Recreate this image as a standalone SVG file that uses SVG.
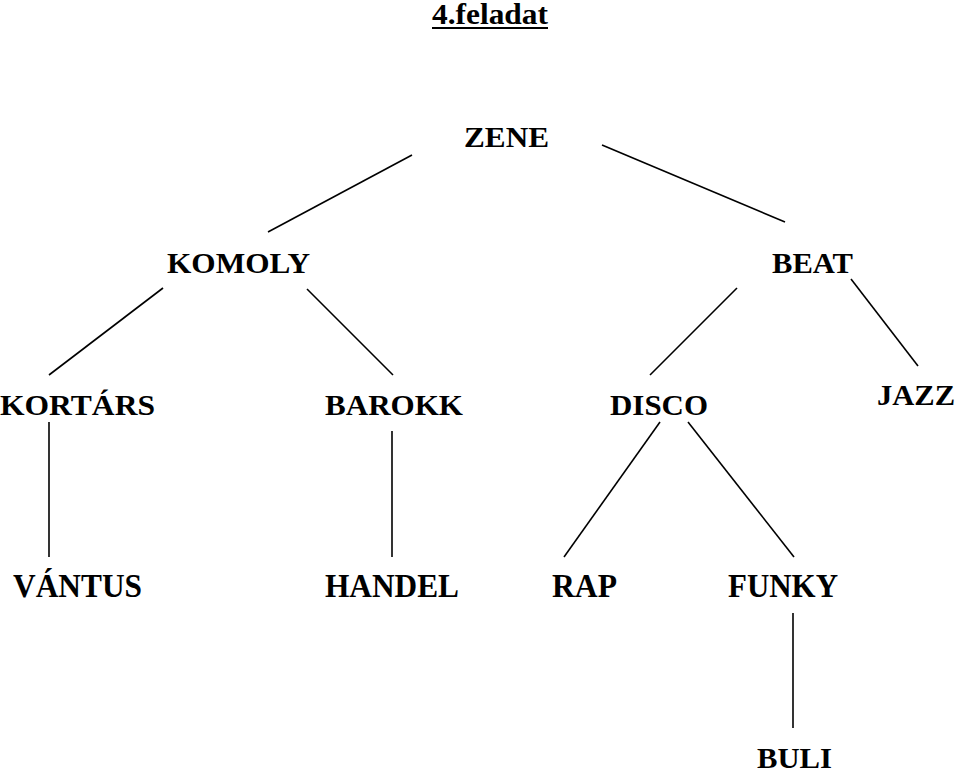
<svg xmlns="http://www.w3.org/2000/svg" width="959" height="770" viewBox="0 0 959 770">
<style>
.t{font-family:"Liberation Serif","Times New Roman",serif;font-weight:bold;font-size:30px;fill:#000}
.b{font-size:33px}
.c line{stroke:#000;stroke-width:1.6}
</style>
<rect width="959" height="770" fill="#fff"/>
<g id="title">
<text class="t" x="432" y="24" font-size="29" textLength="116" lengthAdjust="spacingAndGlyphs">4.feladat</text>
<line x1="432" y1="28" x2="548" y2="28" stroke="#000" stroke-width="2"/>
</g>
<g class="c" id="connectors">
<line x1="412" y1="155" x2="268" y2="232"/>
<line x1="602" y1="145" x2="785" y2="222"/>
<line x1="163" y1="288" x2="49" y2="375"/>
<line x1="307" y1="289" x2="393" y2="375"/>
<line x1="737" y1="288" x2="650" y2="375"/>
<line x1="851" y1="279" x2="918" y2="366"/>
<line x1="49" y1="422" x2="49" y2="557"/>
<line x1="392" y1="431" x2="392" y2="557"/>
<line x1="660" y1="422" x2="564" y2="557"/>
<line x1="688" y1="422" x2="794" y2="557"/>
<line x1="793" y1="613" x2="793" y2="728"/>
</g>
<g id="zene"><text class="t" x="464" y="147" textLength="85" lengthAdjust="spacingAndGlyphs">ZENE</text></g>
<g id="komoly"><text class="t" x="167" y="273" textLength="143" lengthAdjust="spacingAndGlyphs">KOMOLY</text></g>
<g id="beat"><text class="t" x="772" y="273" textLength="81" lengthAdjust="spacingAndGlyphs">BEAT</text></g>
<g id="kortars"><text class="t" x="0" y="415" textLength="155" lengthAdjust="spacingAndGlyphs">KORTÁRS</text></g>
<g id="barokk"><text class="t" x="325" y="415" textLength="138" lengthAdjust="spacingAndGlyphs">BAROKK</text></g>
<g id="disco"><text class="t" x="610" y="415" textLength="98" lengthAdjust="spacingAndGlyphs">DISCO</text></g>
<g id="jazz"><text class="t" x="877" y="405" textLength="78" lengthAdjust="spacingAndGlyphs">JAZZ</text></g>
<g id="vantus"><text class="t b" x="13" y="597" textLength="129" lengthAdjust="spacingAndGlyphs">VÁNTUS</text></g>
<g id="handel"><text class="t b" x="325" y="597" textLength="134" lengthAdjust="spacingAndGlyphs">HANDEL</text></g>
<g id="rap"><text class="t b" x="552" y="597" textLength="65" lengthAdjust="spacingAndGlyphs">RAP</text></g>
<g id="funky"><text class="t b" x="728" y="597" textLength="110" lengthAdjust="spacingAndGlyphs">FUNKY</text></g>
<g id="buli"><text class="t" x="757" y="768" textLength="75" lengthAdjust="spacingAndGlyphs">BULI</text></g>
</svg>
